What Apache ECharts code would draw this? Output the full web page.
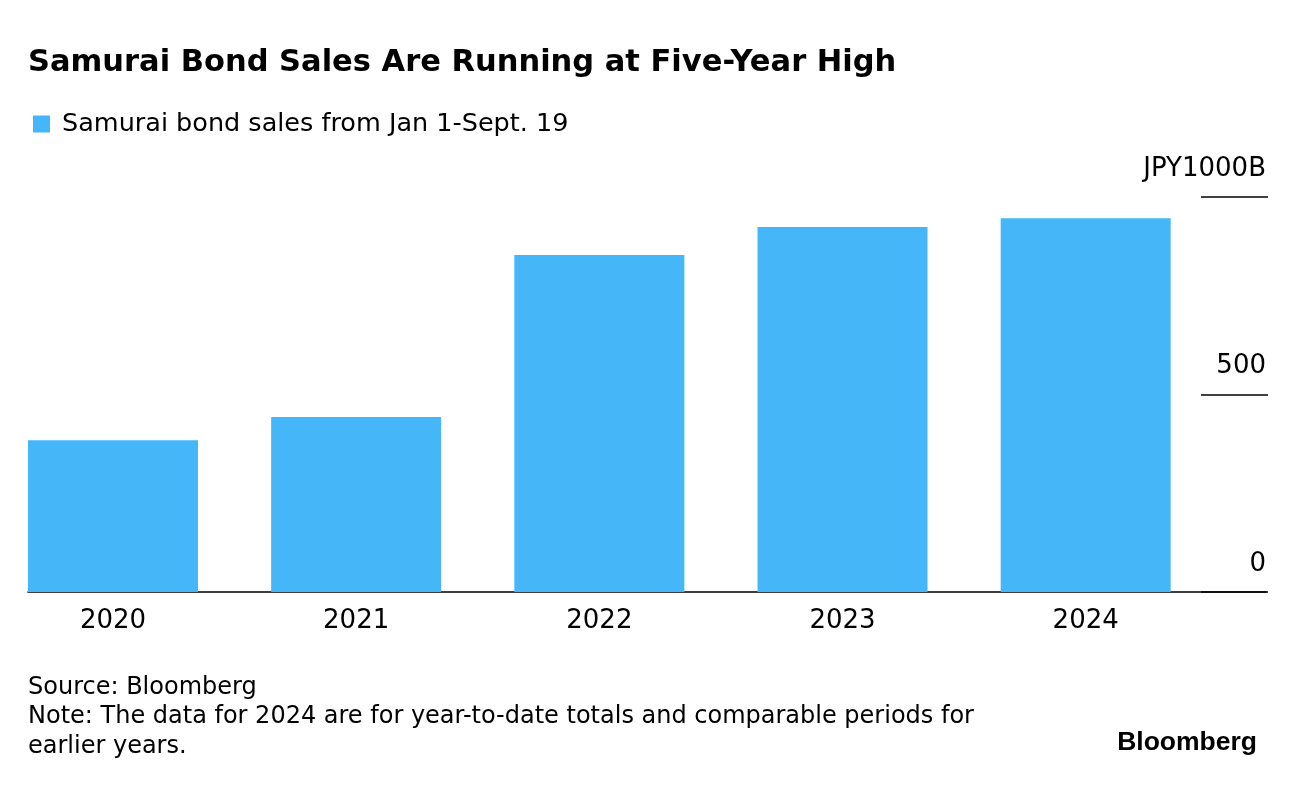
<!DOCTYPE html>
<html>
<head>
<meta charset="utf-8">
<script src="https://cdn.jsdelivr.net/npm/echarts@6/dist/echarts.min.js"></script>
<style>
html,body{margin:0;padding:0;background:#fff;}
#chart{width:1296px;height:786px;}
</style>
</head>
<body>
<div id="chart"></div>
<script>
const categories = ['2020', '2021', '2022', '2023', '2024'];
const sales = [384, 443, 853, 924, 946];
const yTicks = [0, 500, 1000];
const seriesName = 'Samurai bond sales from Jan 1-Sept. 19';
const titleText = 'Samurai Bond Sales Are Running at Five-Year High';
const sourceLines = ['Source: Bloomberg', 'Note: The data for 2024 are for year-to-date totals and comparable periods for', 'earlier years.'];

const FONT = '"DejaVu Sans", "Liberation Sans", Arial, sans-serif';
const LOGOFONT = '"Liberation Sans", Arial, Helvetica, sans-serif';
const chart = echarts.init(document.getElementById('chart'), null, {renderer: 'canvas'});
const gridTop = 197, gridBottom = 194;
const catPositions = categories.map(function (c, i) { return i; });
const barData = categories.map(function (c, i) { return [i, sales[i]]; });

chart.setOption({
  backgroundColor: '#ffffff',
  animation: false,
  title: [
    {text: titleText, left: 23, top: 40,
     textStyle: {fontFamily: FONT, fontWeight: 'bold', fontSize: 30.5, color: '#000', lineHeight: 36}},
    {text: sourceLines.join('\n'), left: 23, top: 668,
     textStyle: {fontFamily: FONT, fontWeight: 'normal', fontSize: 24, color: '#000', lineHeight: 29.5}},
    {text: 'Bloomberg', right: 34, top: 724,
     textStyle: {fontFamily: LOGOFONT, fontWeight: 'bold', fontSize: 26.5, color: '#000', lineHeight: 28}}
  ],
  legend: {
    left: 28, top: 106, itemWidth: 17, itemHeight: 17, icon: 'rect',
    data: [seriesName],
    textStyle: {fontFamily: FONT, fontSize: 25.5, color: '#000', lineHeight: 26, padding: [0, 0, 0, 7]}
  },
  grid: [
    {left: 28, right: 30, top: gridTop, bottom: gridBottom},
    {left: 1201, right: 28, top: gridTop, bottom: gridBottom}
  ],
  xAxis: [
    {type: 'value', gridIndex: 0, min: -0.3495, max: 4.7415,
     axisLine: {show: true, onZero: false, lineStyle: {color: '#000', width: 1.5}},
     axisTick: {show: false}, splitLine: {show: false},
     axisLabel: {customValues: catPositions, fontFamily: FONT, fontSize: 26, color: '#000', margin: 16,
       formatter: function (v) { return categories[Math.round(v)]; }}},
    {type: 'value', gridIndex: 1, min: 0, max: 1, show: false}
  ],
  yAxis: [
    {type: 'value', gridIndex: 0, min: 0, max: 1000, interval: 500, show: false},
    {type: 'value', gridIndex: 1, min: 0, max: 1000, interval: 500, position: 'right',
     axisLine: {show: false}, axisTick: {show: false},
     splitLine: {show: true, lineStyle: {color: '#000', width: 1.5}},
     axisLabel: {inside: true, margin: 2, fontFamily: FONT, fontSize: 26, color: '#000',
       verticalAlign: 'bottom', padding: [0, 0, 15, 0],
       formatter: function (v) { return v === yTicks[2] ? 'JPY' + v + 'B' : String(v); }}}
  ],
  series: [
    {name: seriesName, type: 'bar', xAxisIndex: 0, yAxisIndex: 0, data: barData,
     barWidth: 170, itemStyle: {color: '#45b7f9'}, silent: true}
  ]
});
</script>
</body>
</html>
